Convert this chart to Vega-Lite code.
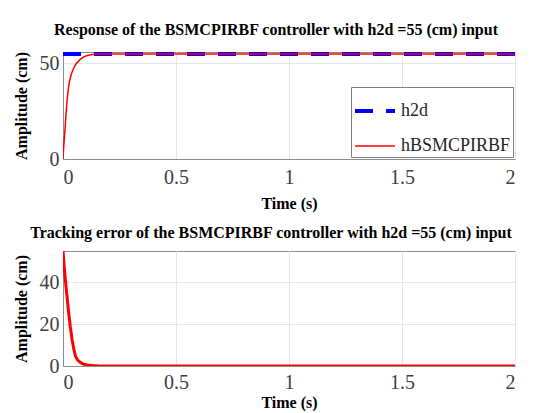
{
  "$schema": "https://vega.github.io/schema/vega-lite/v6.json",
  "padding": {"left": 12, "top": 21, "right": 20, "bottom": 0},
  "background": "white",
  "spacing": 12,
  "datasets": {
    "top": [
      {"t": 0, "v": 55, "series": "h2d"},
      {"t": 2, "v": 55, "series": "h2d"},
      {"t": 0, "v": 0, "series": "hBSMCPIRBF"},
      {"t": 0.003, "v": 6, "series": "hBSMCPIRBF"},
      {"t": 0.006, "v": 11, "series": "hBSMCPIRBF"},
      {"t": 0.009, "v": 15.5, "series": "hBSMCPIRBF"},
      {"t": 0.013, "v": 23, "series": "hBSMCPIRBF"},
      {"t": 0.019, "v": 32, "series": "hBSMCPIRBF"},
      {"t": 0.025, "v": 38, "series": "hBSMCPIRBF"},
      {"t": 0.031, "v": 42, "series": "hBSMCPIRBF"},
      {"t": 0.04, "v": 45.5, "series": "hBSMCPIRBF"},
      {"t": 0.049, "v": 48, "series": "hBSMCPIRBF"},
      {"t": 0.06, "v": 50.2, "series": "hBSMCPIRBF"},
      {"t": 0.078, "v": 52.3, "series": "hBSMCPIRBF"},
      {"t": 0.09, "v": 53.3, "series": "hBSMCPIRBF"},
      {"t": 0.108, "v": 54.2, "series": "hBSMCPIRBF"},
      {"t": 0.13, "v": 54.7, "series": "hBSMCPIRBF"},
      {"t": 0.152, "v": 55, "series": "hBSMCPIRBF"},
      {"t": 0.2, "v": 55, "series": "hBSMCPIRBF"},
      {"t": 2, "v": 55, "series": "hBSMCPIRBF"}
    ],
    "err": [
      {"t": 0, "v": 55},
      {"t": 0.005, "v": 48},
      {"t": 0.01, "v": 41.7},
      {"t": 0.018, "v": 33},
      {"t": 0.025, "v": 25.6},
      {"t": 0.032, "v": 19},
      {"t": 0.04, "v": 12.8},
      {"t": 0.048, "v": 8},
      {"t": 0.055, "v": 4.8},
      {"t": 0.065, "v": 2.8},
      {"t": 0.078, "v": 1.6},
      {"t": 0.09, "v": 0.9},
      {"t": 0.108, "v": 0.5},
      {"t": 0.13, "v": 0.2},
      {"t": 0.16, "v": 0},
      {"t": 2, "v": 0}
    ]
  },
  "resolve": {"legend": {"color": "independent", "strokeDash": "independent", "strokeWidth": "independent"}},
  "vconcat": [
    {
      "width": 452,
      "height": 107,
      "title": {"text": "Response of the BSMCPIRBF controller with h2d =55 (cm) input", "dx": -13, "offset": 14},
      "data": {"name": "top"},
      "mark": {"type": "line", "clip": true},
      "encoding": {
        "x": {"field": "t", "type": "quantitative", "scale": {"domain": [0, 2], "nice": false}, "axis": {"title": "Time (s)", "values": [0, 0.5, 1, 1.5, 2], "format": "~g"}},
        "y": {"field": "v", "type": "quantitative", "scale": {"domain": [0, 56], "nice": false}, "axis": {"title": "Amplitude (cm)", "values": [0, 50]}},
        "color": {"field": "series", "type": "nominal", "scale": {"domain": ["h2d", "hBSMCPIRBF"], "range": ["#0000ff", "#ff0000"]},
          "legend": {"title": null, "orient": "bottom-right", "offset": 2}},
        "strokeDash": {"field": "series", "type": "nominal", "scale": {"domain": ["h2d", "hBSMCPIRBF"], "range": [[18, 13], [1, 0]]}},
        "strokeWidth": {"field": "series", "type": "nominal", "scale": {"domain": ["h2d", "hBSMCPIRBF"], "range": [4, 1.5]}},
        "order": {"field": "series", "type": "nominal"}
      }
    },
    {
      "width": 452,
      "height": 115,
      "title": {"text": "Tracking error of the BSMCPIRBF controller with h2d =55 (cm) input", "dx": -18, "offset": 10},
      "data": {"name": "err"},
      "mark": {"type": "line", "color": "#ff0000", "strokeWidth": 3, "clip": true},
      "encoding": {
        "x": {"field": "t", "type": "quantitative", "scale": {"domain": [0, 2], "nice": false}, "axis": {"title": "Time (s)", "values": [0, 0.5, 1, 1.5, 2], "format": "~g", "titlePadding": 2, "labelPadding": 6}},
        "y": {"field": "v", "type": "quantitative", "scale": {"domain": [0, 55], "nice": false}, "axis": {"title": "Amplitude (cm)", "values": [0, 20, 40]}}
      }
    }
  ],
  "config": {
    "font": "Liberation Serif",
    "view": {"stroke": "#8c8c8c", "strokeWidth": 1},
    "title": {"font": "Liberation Serif", "fontSize": 16, "fontWeight": "bold", "color": "#000000", "anchor": "middle"},
    "axis": {
      "labelFont": "Liberation Serif",
      "labelFontSize": 20,
      "labelColor": "#404040",
      "labelPadding": 6,
      "tickSize": 0,
      "domainColor": "#8c8c8c",
      "gridColor": "#e6e6e6",
      "titleFont": "Liberation Serif",
      "titleFontSize": 16,
      "titleFontWeight": "bold",
      "titleColor": "#000000"
    },
    "axisX": {"titlePadding": 8, "labelPadding": 8},
    "axisY": {"titlePadding": 10, "labelPadding": 4},
    "legend": {
      "labelFont": "Liberation Serif",
      "labelFontSize": 18,
      "labelColor": "#262626",
      "symbolType": "stroke",
      "symbolSize": 1600,
      "strokeColor": "#7f7f7f",
      "fillColor": "#ffffff",
      "padding": 2,
      "rowPadding": 5,
      "labelOffset": 4
    }
  }
}
